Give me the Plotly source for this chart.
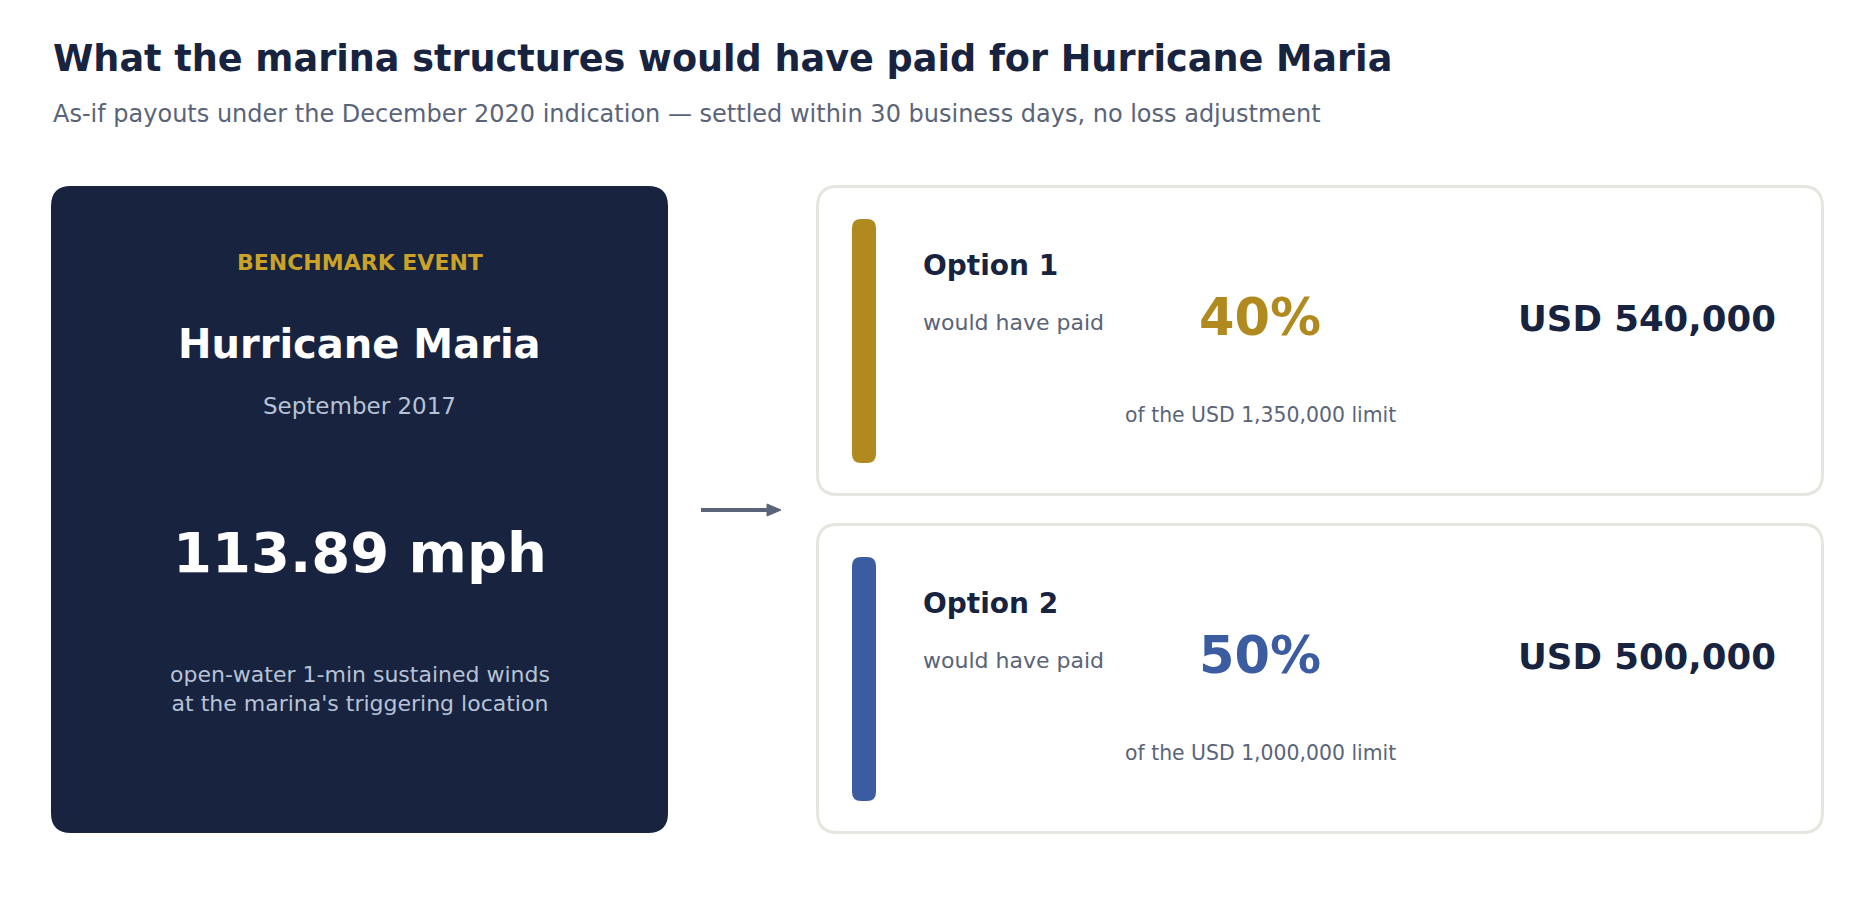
import plotly.graph_objects as go

# benchmark event
event_label = "BENCHMARK EVENT"
event_name = "Hurricane Maria"
event_date = "September 2017"
wind_mph = 113.89
wind_note = ["open-water 1-min sustained winds", "at the marina's triggering location"]

# payout options
options = ["Option 1", "Option 2"]
payout_pct = [40, 50]
limit_usd = [1350000, 1000000]
payout_usd = [540000, 500000]

title = "What the marina structures would have paid for Hurricane Maria"
subtitle = "As-if payouts under the December 2020 indication \u2014 settled within 30 business days, no loss adjustment"

NAVY = "#17233f"
GREY = "#5a6478"
LIGHT = "#b8c2d6"
accent = ["#b08a1f", "#3b5ca0"]
FONT = "DejaVu Sans"

W, H = 1875, 915
OFF = 8  # page body margin


def rrect(x0, y0, x1, y1, r):
    return (f"M {x0+r},{y0} L {x1-r},{y0} Q {x1},{y0} {x1},{y0+r} "
            f"L {x1},{y1-r} Q {x1},{y1} {x1-r},{y1} L {x0+r},{y1} "
            f"Q {x0},{y1} {x0},{y1-r} L {x0},{y0+r} Q {x0},{y0} {x0+r},{y0} Z")


def txt(x, y, s, size, color, xanchor="center"):
    return dict(x=x, y=y, xref="x", yref="y", text=s, showarrow=False,
                xanchor=xanchor, yanchor="middle",
                font=dict(family=FONT, size=size, color=color))


shapes = []
annots = []

annots.append(txt(51, 58, f"<b>{title}</b>", 36.6, NAVY, xanchor="left"))
annots.append(txt(51, 114, subtitle, 24, GREY, xanchor="left"))

# left card - the event
shapes.append(dict(type="path", path=rrect(51, 186, 668, 833, 20), xref="x", yref="y",
                   fillcolor=NAVY, line=dict(width=0), layer="below"))
cx = (51 + 668) / 2
annots.append(txt(cx, 262, f"<b>{event_label}</b>", 22, "#c9a227"))
annots.append(txt(cx, 344, f"<b>{event_name}</b>", 40, "white"))
annots.append(txt(cx, 406, event_date, 23, LIGHT))
annots.append(txt(cx, 552, f"<b>{wind_mph:.2f} mph</b>", 56, "white"))
annots.append(txt(cx, 689, "<br>".join(wind_note), 22, LIGHT))

# arrow
shapes.append(dict(type="line", x0=701, y0=510, x1=770, y1=510, xref="x", yref="y",
                   line=dict(color=GREY, width=4)))
shapes.append(dict(type="path", path="M 767,504 L 781,510 L 767,516 Z", xref="x", yref="y",
                   fillcolor=GREY, line=dict(color=GREY, width=1)))

# option cards
for i, opt in enumerate(options):
    dy = i * 338
    shapes.append(dict(type="path", path=rrect(817.5, 186.5 + dy, 1822.5, 494.5 + dy, 20),
                       xref="x", yref="y", fillcolor="white",
                       line=dict(color="#e6e5df", width=3), layer="below"))
    shapes.append(dict(type="path", path=rrect(852, 219 + dy, 876, 463 + dy, 9),
                       xref="x", yref="y", fillcolor=accent[i], line=dict(width=0)))
    annots.append(txt(921, 265 + dy, f"<b>{opt}</b>", 28, NAVY, xanchor="left"))
    annots.append(txt(921, 322 + dy, "would have paid", 22, GREY, xanchor="left"))
    annots.append(txt(1260, 317 + dy, f"<b>{payout_pct[i]}%</b>", 51, accent[i]))
    annots.append(txt(1260, 415 + dy, f"of the USD {limit_usd[i]:,} limit", 20.4, GREY))
    annots.append(txt(1778, 318 + dy, f"<b>USD {payout_usd[i]:,}</b>", 35.5, NAVY, xanchor="right"))

fig = go.Figure()
fig.update_layout(
    width=W, height=H,
    margin=dict(l=0, r=0, t=0, b=0),
    paper_bgcolor="white", plot_bgcolor="white",
    xaxis=dict(range=[OFF, W + OFF], visible=False, fixedrange=True),
    yaxis=dict(range=[H + OFF, OFF], visible=False, fixedrange=True),
    shapes=shapes, annotations=annots,
    showlegend=False,
)
fig.write_html("out.html", config={"displayModeBar": False})
